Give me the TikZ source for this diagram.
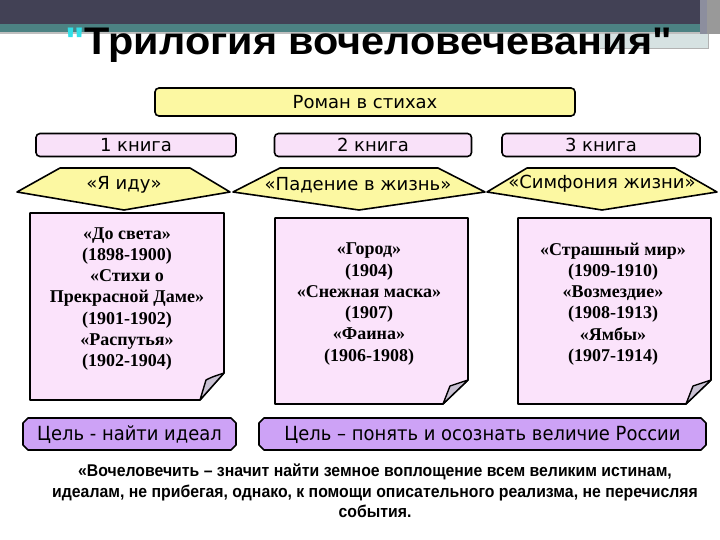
\documentclass[tikz,border=0pt]{standalone}
\usepackage{fontspec}
\setmainfont{Liberation Serif}
\newfontfamily\dvfont{DejaVu Sans}
\newfontfamily\goalfont[FakeStretch=0.92]{DejaVu Sans}
\newfontfamily\titlefont[FakeStretch=1.075]{Liberation Sans}
\newfontfamily\narrowfont[FakeStretch=0.93]{Liberation Sans}
\definecolor{topbar}{HTML}{424155}
\definecolor{tealband}{HTML}{4C8283}
\definecolor{lightband}{HTML}{D6E2E2}
\definecolor{sidestrip}{HTML}{8C8E9E}
\definecolor{qcyan}{HTML}{33E0E8}
\definecolor{boxyellow}{HTML}{FCF8A2}
\definecolor{boxpink}{HTML}{F9E1F9}
\definecolor{notepink}{HTML}{FBE3FB}
\definecolor{foldgray}{HTML}{C9C1D3}
\definecolor{goalviolet}{HTML}{CDA2F6}
\tikzset{
  roundbox/.style={draw=black, line width=1.6pt, rounded corners=4pt, inner sep=0pt},
  sanslabel/.style={font=\dvfont\fontsize{18}{21}\selectfont},
  notetext/.style={align=center, font=\bfseries\fontsize{18}{21.3}\selectfont},
  outline/.style={draw=black, line width=1.6pt, line join=round},
  fold/.style={fill=foldgray, draw=black, line width=1.4pt, line join=round}
}
\begin{document}
\begin{tikzpicture}[x=1pt,y=-1pt]
\useasboundingbox (0,0) rectangle (720,540);
\fill[white] (0,0) rectangle (720,540);
% header bars
\fill[topbar] (0,0) rectangle (720,24);
\fill[tealband] (0,24) rectangle (700,32);
\fill[black!25] (0,32) rectangle (700,34);
\fill[lightband] (600,34) rectangle (708,49);
\draw[black!30, line width=1pt] (600,49) -- (708,49) -- (708,34);
\fill[sidestrip] (700,0) rectangle (707,34);
\fill[black!40] (707,0) rectangle (720,34);
% title
\node[anchor=base west, inner sep=0pt] (title) at (65,55)
  {\titlefont\bfseries\fontsize{38.5}{42}\selectfont{\color{qcyan}"}Трилогия вочеловечевания"};
% Роман в стихах
\node[roundbox, fill=boxyellow, minimum width=420pt, minimum height=28pt, sanslabel] (roman) at (365,102) {Роман в стихах};
% books
\node[roundbox, fill=boxpink, minimum width=200pt, minimum height=23pt, sanslabel] (b1) at (136,145) {1 книга};
\node[roundbox, fill=boxpink, minimum width=197pt, minimum height=23pt, sanslabel] (b2) at (373,145) {2 книга};
\node[roundbox, fill=boxpink, minimum width=198pt, minimum height=23pt, sanslabel] (b3) at (601,145) {3 книга};
% pentagons
\draw[outline, fill=boxyellow] (60,168) -- (190,168) -- (230,192) -- (124,210) -- (17,192) -- cycle;
\draw[outline, fill=boxyellow] (280,168) -- (438,168) -- (485,192) -- (359,210) -- (233,192) -- cycle;
\draw[outline, fill=boxyellow] (527,168) -- (675,168) -- (717,192) -- (602,210) -- (487,192) -- cycle;
\node[sanslabel] (t1) at (124,185) {«Я иду»};
\node[sanslabel] (t2) at (358,185) {«Падение в жизнь»};
\node[sanslabel] (t3) at (602,184) {«Симфония жизни»};
% notes
\draw[outline, fill=notepink] (30,213) -- (224,213) -- (224,373) -- (200,400) -- (30,400) -- cycle;
\draw[fold] (224,373) .. controls (212,377) .. (206,380) .. controls (203,390) .. (200,400) -- cycle;
\draw[outline, fill=notepink] (275,218) -- (468,218) -- (468,380) -- (443,404) -- (275,404) -- cycle;
\draw[fold] (468,380) .. controls (456,384) .. (450,386) .. controls (447,395) .. (443,404) -- cycle;
\draw[outline, fill=notepink] (518,218) -- (711,218) -- (711,380) -- (686,404) -- (518,404) -- cycle;
\draw[fold] (711,380) .. controls (699,384) .. (693,386) .. controls (690,395) .. (686,404) -- cycle;
\node[notetext] (n1) at (127,299) {«До света»\\(1898-1900)\\«Стихи о\\Прекрасной Даме»\\(1901-1902)\\«Распутья»\\(1902-1904)};
\node[notetext] (n2) at (369,304) {«Город»\\(1904)\\«Снежная маска»\\(1907)\\«Фаина»\\(1906-1908)};
\node[notetext] (n3) at (613,304) {«Страшный мир»\\(1909-1910)\\«Возмездие»\\(1908-1913)\\«Ямбы»\\(1907-1914)};
% goals
\draw[outline, fill=goalviolet] (28,418) -- (231,418) -- (236,423) -- (236,445) -- (231,450) -- (28,450) -- (23,445) -- (23,423) -- cycle;
\draw[outline, fill=goalviolet] (264,418) -- (701,418) -- (706,423) -- (706,445) -- (701,450) -- (264,450) -- (259,445) -- (259,423) -- cycle;
\node[font=\goalfont\fontsize{19.5}{22}\selectfont] (g1) at (129.5,435) {Цель - найти идеал};
\node[font=\goalfont\fontsize{19.5}{22}\selectfont] (g2) at (482.5,435) {Цель – понять и осознать величие России};
% quote
\node[align=center, font=\narrowfont\bfseries\fontsize{17}{20.5}\selectfont] (q) at (375,491)
  {«Вочеловечить – значит найти земное воплощение всем великим истинам,\\
   идеалам, не прибегая, однако, к помощи описательного реализма, не перечисляя\\
   события.};
\end{tikzpicture}
\end{document}
